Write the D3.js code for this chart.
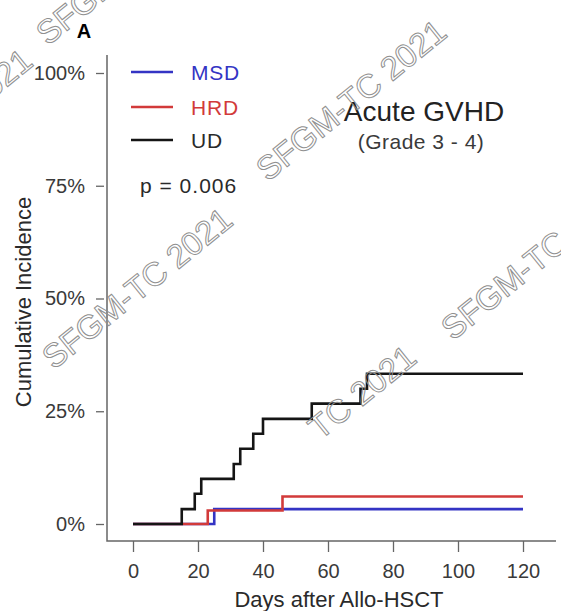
<!DOCTYPE html>
<html>
<head>
<meta charset="utf-8">
<script src="https://cdn.jsdelivr.net/npm/d3@7"></script>
<style>
  body { margin: 0; background: #fff; }
  svg { display: block; font-family: "Liberation Sans", Arial, sans-serif; }
</style>
</head>
<body>
<div id="chart"></div>
<script>
// cumulative incidence (%) by days after Allo-HSCT
var msdDays = [0, 25, 120];
var msdCI   = [0, 3.3, 3.3];
var hrdDays = [0, 23, 46, 120];
var hrdCI   = [0, 3.0, 6.1, 6.1];
var udDays  = [0, 15, 19, 21, 31, 33, 37, 40, 55, 70, 72, 120];
var udCI    = [0, 3.3, 6.7, 10, 13.3, 16.7, 20, 23.3, 26.7, 30, 33.3, 33.3];

var groups = ["MSD", "HRD", "UD"];
var groupColors = ["#3434c4", "#d23a3a", "#151515"];
var xTicks = [0, 20, 40, 60, 80, 100, 120];
var yTicks = [0, 25, 50, 75, 100];
var pText = "p = 0.006";

function draw(){
    var width = 561, height = 611;
    var svg = d3.select("#chart")
        .append("svg")
            .attr("width", width)
            .attr("height", height);

    var x = d3.scaleLinear().domain([0, 120]).range([133, 523]);
    var y = d3.scaleLinear().domain([0, 100]).range([524, 73]);

    // L shaped frame
    svg.append("path")
        .attr("d", "M107,55V541H556")
        .attr("fill", "none")
        .attr("stroke", "#666")
        .attr("stroke-width", 1.5);

    // x axis (ticks hang below the frame)
    var gx = svg.append("g")
        .attr("transform", "translate(0,541)")
        .call(d3.axisBottom(x).tickValues(xTicks).tickSize(11).tickPadding(12).tickSizeOuter(0));
    gx.select(".domain").remove();

    // y axis
    var gy = svg.append("g")
        .attr("transform", "translate(104,0)")
        .call(d3.axisLeft(y).tickValues(yTicks).tickSize(8).tickPadding(11)
            .tickFormat(function(d){ return d + "%"; }));
    gy.select(".domain").remove();

    [gx, gy].forEach(function(g){
        g.selectAll(".tick line").attr("stroke", "#666").attr("stroke-width", 1.3);
        g.selectAll(".tick text")
            .attr("fill", "#3a3a3a")
            .style("font-size", "20px")
            .style("font-family", "Liberation Sans, Arial, sans-serif");
    });

    // axis titles
    svg.append("text")
        .attr("x", 339).attr("y", 607)
        .attr("text-anchor", "middle")
        .attr("fill", "#2a2a2a")
        .style("font-size", "22px")
        .text("Days after Allo-HSCT");

    svg.append("text")
        .attr("transform", "translate(31,302) rotate(-90)")
        .attr("text-anchor", "middle")
        .attr("fill", "#2a2a2a")
        .style("font-size", "22px")
        .text("Cumulative Incidence");

    // panel letter
    svg.append("text")
        .attr("x", 84).attr("y", 38)
        .attr("text-anchor", "middle")
        .style("font-size", "20px")
        .style("font-weight", "bold")
        .text("A");

    // step curves
    var series = [
        {name: "MSD", days: msdDays, ci: msdCI},
        {name: "HRD", days: hrdDays, ci: hrdCI},
        {name: "UD", days: udDays, ci: udCI}
    ];
    var line = d3.line()
        .curve(d3.curveStepAfter)
        .x(function(d){ return x(d[0]); })
        .y(function(d){ return y(d[1]); });

    series.forEach(function(s, i){
        var pts = s.days.map(function(d, j){ return [d, s.ci[j]]; });
        svg.append("path")
            .datum(pts)
            .attr("d", line)
            .attr("fill", "none")
            .attr("stroke", groupColors[i])
            .attr("stroke-width", 2.6);
    });

    // legend
    var legY = [72, 107, 140];
    groups.forEach(function(g, i){
        svg.append("line")
            .attr("x1", 131).attr("x2", 173)
            .attr("y1", legY[i]).attr("y2", legY[i])
            .attr("stroke", groupColors[i])
            .attr("stroke-width", 2.6);
        svg.append("text")
            .attr("x", 191).attr("y", legY[i] + 8)
            .attr("fill", i == 2 ? "#2a2a2a" : groupColors[i])
            .style("font-size", "21px")
            .style("letter-spacing", "0.8px")
            .text(g);
    });

    svg.append("text")
        .attr("x", 140).attr("y", 193)
        .attr("fill", "#2a2a2a")
        .style("font-size", "21px")
        .style("letter-spacing", "1px")
        .text(pText);

    // title
    svg.append("text")
        .attr("x", 424).attr("y", 121)
        .attr("text-anchor", "middle")
        .attr("fill", "#222")
        .style("font-size", "28px")
        .text("Acute GVHD");
    svg.append("text")
        .attr("x", 421).attr("y", 149)
        .attr("text-anchor", "middle")
        .attr("fill", "#3a3a3a")
        .style("font-size", "21px")
        .style("letter-spacing", "0.5px")
        .text("(Grade 3 - 4)");

    // SFGM-TC watermarks
    var marks = [
        {t: "SFGM-TC 2021", cx: 351, cy: 100},
        {t: "SFGM-TC 2021", cx: 137, cy: 288},
        {t: "SFGM-TC 2021", cx: 536, cy: 259},
        {t: "TC 2021", cx: 362, cy: 392},
        {t: "SFGM-TC 2021", cx: -63, cy: 129},
        {t: "SFGM-TC 2021", cx: 131, cy: -36}
    ];
    svg.append("g").selectAll("text")
        .data(marks)
        .enter().append("text")
            .attr("transform", function(d){ return "translate(" + d.cx + "," + d.cy + ") rotate(-39)"; })
            .attr("text-anchor", "middle")
            .attr("dy", "0.35em")
            .attr("fill", "none")
            .attr("stroke", "#909090")
            .attr("stroke-width", 1)
            .style("font-size", "33px")
            .text(function(d){ return d.t; });
}
draw();
</script>
</body>
</html>
